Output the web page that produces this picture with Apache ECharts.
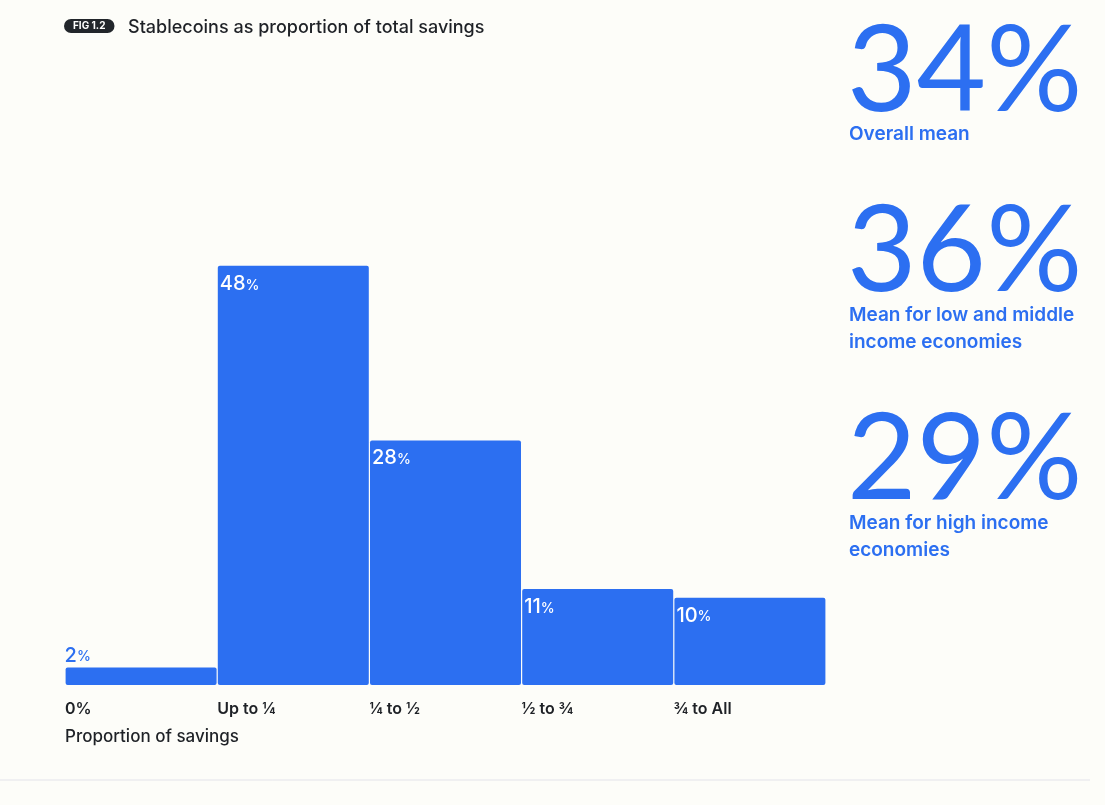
<!DOCTYPE html>
<html>
<head>
<meta charset="utf-8">
<script src="https://cdn.jsdelivr.net/npm/echarts@6/dist/echarts.min.js"></script>
<style>
  html, body { margin: 0; padding: 0; background: #fdfdf9; }
  #chart { width: 1105px; height: 805px; }
</style>
</head>
<body>
<div id="chart"></div>
<script>
// bar categories and shares (percent of respondents)
const categories = ['0%', 'Up to ¼', '¼ to ½', '½ to ¾', '¾ to All']
const shares = [2, 48, 28, 11, 10]
// boundary labels sit at the left edge of each bar
const edgeLabels = ['0%', 'Up to ¼', '¼ to ½', '½ to ¾', '¾ to All', '']

// headline figures on the right
const statValues = ['34%', '36%', '29%']
const statCaptions = ['Overall mean', 'Mean for low and middle\nincome economies', 'Mean for high income\neconomies']

const blue = '#2c6ff1'
const dark = '#1e2126'
const font = 'Inter, Lato, sans-serif'

const chart = echarts.init(document.getElementById('chart'))

const statTops = [7, 187, 395]
const captionTops = [116, 297, 505]
const titles = [
  {
    text: 'FIG 1.2',
    left: 64, top: 19,
    backgroundColor: '#22262b',
    borderRadius: 8,
    padding: [1, 9, 1, 9],
    textStyle: { color: '#fff', fontSize: 10, fontWeight: 'bold', fontFamily: font, lineHeight: 12 }
  },
  {
    text: 'Stablecoins as proportion of total savings',
    left: 123, top: 13,
    textStyle: { color: dark, fontSize: 18, fontWeight: 500, fontFamily: font, lineHeight: 20 }
  },
  {
    text: 'Proportion of savings',
    left: 60, top: 722,
    textStyle: { color: dark, fontSize: 17, fontWeight: 500, fontFamily: font, lineHeight: 20 }
  }
]
statValues.forEach((v, i) => {
  titles.push({
    text: v,
    left: 842, top: statTops[i],
    textStyle: { color: blue, fontSize: 120, fontWeight: 'normal', fontFamily: 'Lato, sans-serif', lineHeight: 120 }
  })
  titles.push({
    text: statCaptions[i],
    left: 844, top: captionTops[i],
    textStyle: { color: blue, fontSize: 19, fontWeight: 600, fontFamily: font, lineHeight: 27 }
  })
})

chart.setOption({
  backgroundColor: '#fdfdf9',
  title: titles,
  grid: { left: 65, right: 279, top: 161, bottom: 120 },
  xAxis: [
    {
      type: 'category',
      position: 'top',
      data: categories,
      axisLine: { show: false },
      axisTick: { show: false },
      axisLabel: { show: false }
    },
    {
      type: 'category',
      position: 'bottom',
      boundaryGap: false,
      data: edgeLabels,
      axisLine: { show: false },
      axisTick: { show: false },
      axisLabel: {
        align: 'left',
        margin: 16,
        color: dark,
        fontSize: 16,
        fontWeight: 600,
        fontFamily: font,
        interval: 0
      }
    }
  ],
  yAxis: {
    type: 'value',
    min: 0,
    max: 60,
    show: false,
    splitLine: { show: false }
  },
  series: [
    {
      type: 'bar',
      xAxisIndex: 0,
      barWidth: 151,
      itemStyle: { color: blue, borderRadius: 2 },
      label: {
        show: true,
        position: [2, 8],
        align: 'left',
        verticalAlign: 'top',
        formatter: '{n|{c}}{p|%}',
        rich: {
          n: { color: '#fff', fontSize: 20, fontFamily: font, fontWeight: 500 },
          p: { color: '#fff', fontSize: 14, fontFamily: font, fontWeight: 500, padding: [3, 0, 0, 0] }
        }
      },
      data: shares.map((v, i) => i === 0 ? {
        value: v,
        label: {
          position: [-1, -22],
          rich: {
            n: { color: blue, fontSize: 20, fontFamily: font, fontWeight: 500 },
            p: { color: blue, fontSize: 14, fontFamily: font, fontWeight: 500, padding: [3, 0, 0, 0] }
          }
        }
      } : v)
    }
  ],
  graphic: [
    {
      type: 'line',
      shape: { x1: 0, y1: 780, x2: 1090, y2: 780 },
      style: { stroke: '#e3e3ea', lineWidth: 1 },
      silent: true
    }
  ]
})
</script>
</body>
</html>
